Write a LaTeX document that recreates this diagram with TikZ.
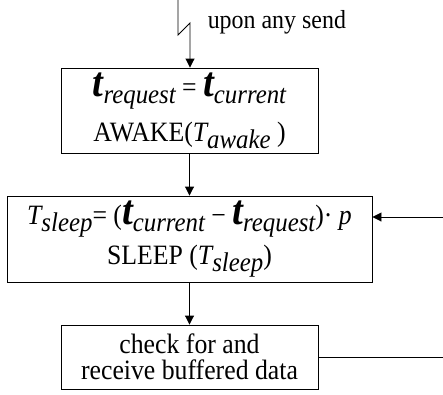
\documentclass[tikz,border=0pt]{standalone}
\usepackage{fontspec}
\setmainfont{Liberation Serif}[FakeStretch=0.92]
\usepackage{tikz}
\usetikzlibrary{arrows.meta}
\newcommand{\tbig}{{\fontsize{42}{42}\selectfont\bfseries\itshape t}}
\newcommand{\Tvar}{{\itshape T}}
\newcommand{\lowsub}[1]{\raisebox{-0.25em}{\fontsize{27}{27}\selectfont\itshape #1}}

\begin{document}
\begin{tikzpicture}[x=1pt,y=-1pt,line width=0.9pt,
  box/.style={draw,inner sep=0pt,align=center,font=\fontsize{28}{28}\selectfont},
  arr/.style={-{Triangle[length=9pt,width=9pt]}}]
\useasboundingbox (0,0) rectangle (443,394);
\node[box,minimum width=257pt,minimum height=85pt] (wake) at (189.5,110.5)
  {\tbig\lowsub{request} = \tbig\lowsub{current}\\[12pt] AWAKE(\Tvar\lowsub{awake} )};
\node[box,minimum width=365pt,minimum height=86pt] (sleep) at (189.5,239)
  {\Tvar\lowsub{sleep}= (\tbig\lowsub{current} − \tbig\lowsub{request})· \textit{p}\\[6pt] SLEEP (\Tvar\lowsub{sleep})};
\node[box,minimum width=257pt,minimum height=64pt,font=\fontsize{28}{26}\selectfont] (check) at (189.5,357)
  {check for and\\receive buffered data};
\coordinate (send) at (178,0);
\coordinate (back) at (443,217);
\coordinate (out) at (443,357);
% wake-up trigger
\draw[arr] (send) -- ++(0,35) -- (190,23) -- (wake.north -| 190,23);
\node[anchor=base west,font=\fontsize{26}{26}\selectfont] (upon) at (204,28) {upon any send};
\draw[arr] (wake) -- (sleep);
\draw[arr] (sleep) -- (check);
\draw[arr] (back) -- (back -| sleep.east);
\draw (check) -- (out);
\end{tikzpicture}
\end{document}
